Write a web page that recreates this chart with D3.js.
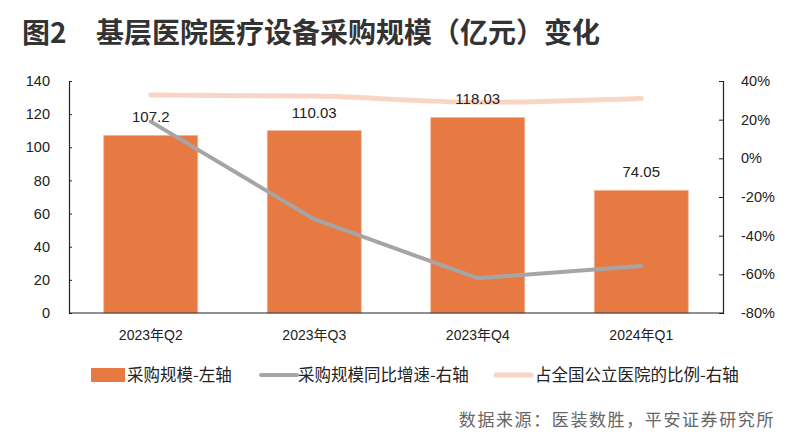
<!DOCTYPE html>
<html><head><meta charset="utf-8">
<script src="https://cdn.jsdelivr.net/npm/d3@7"></script>
<style>
body{margin:0;background:#fff;}
svg{display:block;}
text{font-family:"Liberation Sans","Noto Sans CJK SC",sans-serif;}
.cjk{font-family:"Noto Sans CJK SC",sans-serif;}
</style></head>
<body><svg id="c" width="802" height="436"></svg>
<script>
const categories = ["2023年Q2","2023年Q3","2023年Q4","2024年Q1"];
const purchase = [107.2, 110.03, 118.03, 74.05];
const purchaseLabels = ["107.2","110.03","118.03","74.05"];
const growth = [0.19, -0.315, -0.62, -0.557];
const share = [0.328, 0.322, 0.29, 0.31];
const leftTicks = [0,20,40,60,80,100,120,140];
const rightTicks = [-0.8,-0.6,-0.4,-0.2,0,0.2,0.4];
const seriesNames = ["采购规模-左轴","采购规模同比增速-右轴","占全国公立医院的比例-右轴"];
const title1 = "图2", title2 = "基层医院医疗设备采购规模（亿元）变化";
const source = "数据来源：医装数胜，平安证券研究所";

const svg = d3.select("#c");
const L = 69, R = 723, T = 81, B = 313;
const x = d3.scaleBand().domain(categories).range([L, R]).paddingInner(0.425).paddingOuter(0.2125);
const yL = d3.scaleLinear().domain([0,140]).range([B,T]);
const yR = d3.scaleLinear().domain([-0.8,0.4]).range([B,T]);
const cx = d => x(d) + x.bandwidth()/2;
const pct = d3.formatLocale({decimal:".",thousands:",",grouping:[3],currency:["",""],minus:"-",percent:"%"}).format(".0%");

// title
svg.append("text").attr("class","cjk").attr("x",22).attr("y",43).attr("font-size",28).attr("font-weight","bold").attr("fill","#333").text(title1);
svg.append("text").attr("class","cjk").attr("x",96).attr("y",43).attr("font-size",28).attr("font-weight","bold").attr("fill","#333").text(title2);

// bars
svg.selectAll("rect.bar").data(purchase).enter().append("rect")
  .attr("x",(d,i)=>x(categories[i])).attr("width",x.bandwidth())
  .attr("y",d=>yL(d)).attr("height",d=>B-yL(d))
  .attr("fill","#E67A42").attr("stroke","#F2B79A").attr("stroke-width",0.8);

// share line
const smooth = d3.line().x((d,i)=>cx(categories[i])).y(d=>yR(d)).curve(d3.curveMonotoneX);
const straight = d3.line().x((d,i)=>cx(categories[i])).y(d=>yR(d)).curve(d3.curveLinear);
svg.append("path").attr("d",smooth(share)).attr("fill","none").attr("stroke","#F9D6C4").attr("stroke-width",5).attr("stroke-linecap","round");

// bar labels
svg.selectAll("text.lab").data(purchase).enter().append("text")
  .attr("x",(d,i)=>cx(categories[i])).attr("y",d=>yL(d)-13)
  .attr("text-anchor","middle").attr("font-size",15).attr("fill","#222")
  .text((d,i)=>purchaseLabels[i]);

// growth line
svg.append("path").attr("d",straight(growth)).attr("fill","none").attr("stroke","#A5A5A5").attr("stroke-width",4).attr("stroke-linecap","round").attr("stroke-linejoin","round");

// axes
const gl = svg.append("g").attr("transform",`translate(${L},0)`)
  .call(d3.axisLeft(yL).tickValues(leftTicks).tickSize(-3).tickPadding(19));
const gr = svg.append("g").attr("transform",`translate(${R},0)`)
  .call(d3.axisRight(yR).tickValues(rightTicks).tickSize(-4).tickPadding(18).tickFormat(pct));
const gx = svg.append("g").attr("transform",`translate(0,${B})`)
  .call(d3.axisBottom(x).tickSize(0).tickPadding(17));
[gl,gr,gx].forEach(g=>{
  g.selectAll("path.domain").attr("stroke","#222").attr("stroke-width",1.2);
  g.selectAll("line").attr("stroke","#222");
  g.selectAll("text").attr("font-size",14.5).attr("fill","#222").attr("font-family","Liberation Sans, Noto Sans CJK SC, sans-serif");
});
gx.select("path.domain").attr("d",`M${L},0H${R}`);
gx.selectAll("text").attr("font-size",14);

// legend
const ly = 375;
svg.append("rect").attr("x",91).attr("y",ly-7).attr("width",34).attr("height",14).attr("fill","#E67A42");
svg.append("text").attr("class","cjk").attr("x",127).attr("y",ly+6).attr("font-size",16.5).attr("fill","#222").text(seriesNames[0]);
svg.append("line").attr("x1",261).attr("x2",297).attr("y1",ly).attr("y2",ly).attr("stroke","#A5A5A5").attr("stroke-width",4).attr("stroke-linecap","round");
svg.append("text").attr("class","cjk").attr("x",298).attr("y",ly+6).attr("font-size",16.5).attr("fill","#222").text(seriesNames[1]);
svg.append("line").attr("x1",496).attr("x2",531).attr("y1",ly).attr("y2",ly).attr("stroke","#F9D6C4").attr("stroke-width",5).attr("stroke-linecap","round");
svg.append("text").attr("class","cjk").attr("x",535).attr("y",ly+6).attr("font-size",16.5).attr("fill","#222").text(seriesNames[2]);

// source
svg.append("text").attr("class","cjk").attr("x",775).attr("y",426).attr("text-anchor","end").attr("font-size",17).attr("letter-spacing",1.6).attr("fill","#666").text(source);
</script></body></html>
